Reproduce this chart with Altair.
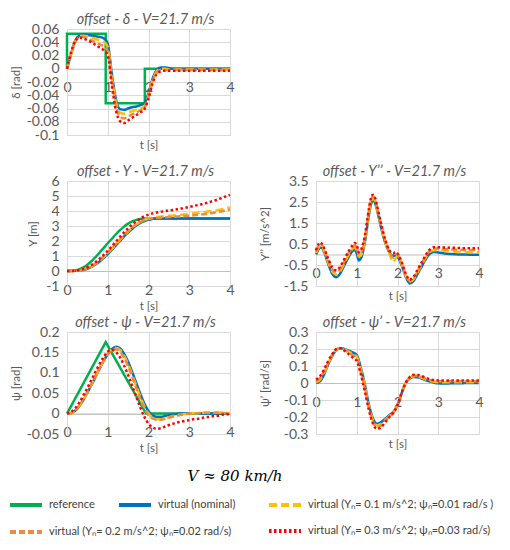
import altair as alt
import pandas as pd

NAMES = ["reference", "virtual (nominal)",
         "virtual (Yₙ= 0.1 m/s^2; ψₙ=0.01 rad/s )",
         "virtual (Yₙ= 0.2 m/s^2; ψₙ=0.02 rad/s)",
         "virtual (Yₙ= 0.3 m/s^2; ψₙ=0.03 rad/s)"]
COLORS = ["#00B050", "#0070C0", "#FFC000", "#F08A3C", "#FF0000"]
DASHES = [[1, 0], [1, 0], [8, 4], [6, 3], [2.5, 2.5]]

T41 = [round(i * 0.1, 1) for i in range(41)]

# steering angle delta [rad]
delta_ref_t = [0, 0, 0.95, 0.95, 1.91, 1.91, 4]
delta_ref = [0, 0.053, 0.053, -0.052, -0.052, 0, 0]
delta_nom = [0, 0.022, 0.042, 0.05, 0.052, 0.051, 0.05, 0.049, 0.048, 0.046, 0.038,
             -0.008, -0.046, -0.061, -0.062, -0.06, -0.058, -0.057, -0.055, -0.052, -0.037,
             -0.015, -0.002, 0.002, 0.002, 0.001, 0, 0, 0, 0, 0,
             0, 0, 0, 0, 0, 0, 0, 0, 0, 0]
delta_01 = [0, 0.022, 0.041, 0.049, 0.05, 0.049, 0.047, 0.045, 0.043, 0.041, 0.033,
            -0.012, -0.05, -0.066, -0.068, -0.066, -0.064, -0.062, -0.06, -0.057, -0.04,
            -0.017, -0.004, 0.0, 0.0, -0.001, -0.001, -0.001, -0.001, -0.001, -0.001,
            -0.001, -0.001, -0.001, -0.001, -0.001, -0.001, -0.001, -0.001, -0.001, -0.001]
delta_02 = [0, 0.022, 0.04, 0.047, 0.048, 0.046, 0.043, 0.04, 0.037, 0.034, 0.027,
            -0.018, -0.056, -0.072, -0.075, -0.072, -0.069, -0.066, -0.063, -0.059, -0.042,
            -0.019, -0.006, -0.002, -0.002, -0.002, -0.002, -0.002, -0.002, -0.002, -0.002,
            -0.002, -0.002, -0.002, -0.002, -0.002, -0.002, -0.002, -0.002, -0.002, -0.002]
delta_03 = [0, 0.025, 0.042, 0.047, 0.046, 0.043, 0.04, 0.036, 0.032, 0.028, 0.02,
            -0.025, -0.063, -0.079, -0.082, -0.078, -0.074, -0.07, -0.066, -0.061, -0.045,
            -0.022, -0.008, -0.004, -0.003, -0.003, -0.003, -0.003, -0.003, -0.003, -0.003,
            -0.003, -0.003, -0.003, -0.003, -0.003, -0.003, -0.003, -0.003, -0.003, -0.003]

# lateral position Y [m]
y_ref = [0, 0.01, 0.04, 0.11, 0.24, 0.42, 0.65, 0.93, 1.23, 1.54, 1.85,
         2.15, 2.45, 2.72, 2.96, 3.16, 3.31, 3.41, 3.47, 3.5, 3.5,
         3.5, 3.5, 3.5, 3.5, 3.5, 3.5, 3.5, 3.5, 3.5, 3.5,
         3.5, 3.5, 3.5, 3.5, 3.5, 3.5, 3.5, 3.5, 3.5, 3.5]
y_nom = [0, 0.0, 0.01, 0.03, 0.07, 0.15, 0.27, 0.43, 0.63, 0.86, 1.12,
         1.4, 1.7, 2.0, 2.3, 2.57, 2.82, 3.03, 3.2, 3.33, 3.42,
         3.47, 3.5, 3.5, 3.5, 3.5, 3.5, 3.5, 3.5, 3.5, 3.5,
         3.5, 3.5, 3.5, 3.5, 3.5, 3.5, 3.5, 3.5, 3.5, 3.5]
y_01 = [0, 0, 0.01, 0.04, 0.09, 0.18, 0.31, 0.48, 0.69, 0.93, 1.19,
        1.47, 1.77, 2.07, 2.37, 2.65, 2.9, 3.11, 3.28, 3.41, 3.5,
        3.56, 3.6, 3.63, 3.66, 3.68, 3.7, 3.72, 3.75, 3.78, 3.81,
        3.84, 3.87, 3.9, 3.94, 3.98, 4.02, 4.07, 4.12, 4.18, 4.25]
y_02 = [0, 0, 0.01, 0.04, 0.1, 0.19, 0.33, 0.5, 0.72, 0.96, 1.22,
        1.5, 1.8, 2.1, 2.4, 2.67, 2.91, 3.11, 3.27, 3.38, 3.46,
        3.51, 3.54, 3.56, 3.58, 3.6, 3.61, 3.63, 3.65, 3.67, 3.69,
        3.71, 3.74, 3.77, 3.8, 3.84, 3.88, 3.93, 3.98, 4.04, 4.1]
y_03 = [0, 0, 0.02, 0.06, 0.13, 0.24, 0.39, 0.58, 0.81, 1.07, 1.35,
        1.65, 1.96, 2.27, 2.57, 2.85, 3.1, 3.32, 3.5, 3.65, 3.76,
        3.84, 3.9, 3.95, 3.99, 4.03, 4.07, 4.11, 4.16, 4.21, 4.27,
        4.33, 4.39, 4.45, 4.52, 4.6, 4.68, 4.77, 4.87, 4.97, 5.08]

# lateral acceleration Y'' [m/s^2]
acc_t = [0, 0.05, 0.1, 0.15, 0.2, 0.3, 0.4, 0.5, 0.6, 0.7, 0.8, 0.9, 0.95, 1.0,
         1.05, 1.1, 1.2, 1.3, 1.35, 1.4, 1.45, 1.5, 1.6, 1.7, 1.8, 1.9, 1.95, 2.0,
         2.1, 2.2, 2.3, 2.4, 2.5, 2.6, 2.7, 2.8, 2.9, 3.0, 3.2, 3.4, 3.6, 3.8, 4.0]
acc_nom = [0.0, 0.2, 0.32, 0.3, 0.12, -0.45, -0.92, -1.08, -0.88, -0.5, -0.12, 0.18, 0.22, 0.05,
           -0.28, -0.2, 0.6, 1.9, 2.4, 2.58, 2.45, 2.1, 1.25, 0.55, 0.1, -0.08, -0.05, -0.1,
           -0.5, -1.05, -1.38, -1.25, -0.9, -0.55, -0.2, 0.05, 0.12, 0.1, 0.04, 0.01, 0.0, -0.01, -0.01]
acc_01 = [0.07, 0.28, 0.42, 0.38, 0.18, -0.38, -0.82, -0.95, -0.78, -0.4, -0.02, 0.28, 0.33, 0.2,
          -0.1, -0.05, 0.7, 2.0, 2.5, 2.68, 2.55, 2.18, 1.32, 0.6, 0.05, -0.35, -0.2, -0.05,
          -0.45, -1.0, -1.3, -1.17, -0.82, -0.47, -0.12, 0.13, 0.2, 0.2, 0.16, 0.13, 0.12, 0.12, 0.12]
acc_02 = [0.13, 0.36, 0.5, 0.44, 0.24, -0.3, -0.72, -0.85, -0.66, -0.3, 0.06, 0.36, 0.44, 0.32,
          0.0, 0.07, 0.8, 2.1, 2.6, 2.77, 2.63, 2.24, 1.38, 0.65, 0.12, -0.15, -0.05, 0.0,
          -0.4, -0.95, -1.25, -1.1, -0.76, -0.41, -0.06, 0.19, 0.28, 0.28, 0.25, 0.23, 0.22, 0.22, 0.22]
acc_03 = [0.2, 0.45, 0.58, 0.5, 0.3, -0.2, -0.62, -0.75, -0.55, -0.2, 0.15, 0.45, 0.55, 0.45,
          0.1, 0.2, 0.9, 2.2, 2.7, 2.85, 2.7, 2.3, 1.45, 0.7, 0.2, 0.05, 0.12, 0.05,
          -0.35, -0.9, -1.2, -1.05, -0.7, -0.35, 0.0, 0.25, 0.35, 0.35, 0.33, 0.32, 0.3, 0.3, 0.3]

# yaw angle psi [rad]
psi_ref_t = [0, 0.95, 1.94, 4]
psi_ref = [0, 0.175, 0, 0]
psi_nom = [0, 0.001, 0.007, 0.018, 0.033, 0.051, 0.07, 0.09, 0.11, 0.129, 0.146,
           0.158, 0.164, 0.16, 0.147, 0.127, 0.102, 0.075, 0.048, 0.024, 0.006,
           -0.004, -0.008, -0.008, -0.006, -0.004, -0.002, -0.001, 0, 0, 0,
           0, 0, 0, 0, 0, 0, 0, 0, 0, 0]
psi_01 = [0, 0.001, 0.007, 0.019, 0.034, 0.052, 0.071, 0.091, 0.111, 0.13, 0.146,
          0.157, 0.161, 0.156, 0.142, 0.121, 0.095, 0.068, 0.041, 0.017, 0.0,
          -0.01, -0.014, -0.014, -0.012, -0.009, -0.006, -0.004, -0.002, -0.001, 0.0,
          0.001, 0.001, 0.002, 0.002, 0.003, 0.003, 0.003, 0.003, 0.002, 0.001]
psi_02 = [0, 0.002, 0.008, 0.02, 0.036, 0.054, 0.073, 0.093, 0.112, 0.13, 0.145,
          0.155, 0.158, 0.152, 0.137, 0.116, 0.09, 0.063, 0.036, 0.013, -0.004,
          -0.012, -0.015, -0.015, -0.013, -0.01, -0.007, -0.005, -0.003, -0.001, 0.0,
          0.001, 0.001, 0.002, 0.002, 0.002, 0.002, 0.002, 0.002, 0.001, 0.001]
psi_03 = [0, 0.004, 0.013, 0.027, 0.044, 0.063, 0.083, 0.103, 0.122, 0.139, 0.152,
          0.156, 0.151, 0.138, 0.118, 0.094, 0.068, 0.041, 0.015, -0.008, -0.025,
          -0.034, -0.037, -0.036, -0.032, -0.028, -0.025, -0.022, -0.02, -0.018, -0.016,
          -0.014, -0.013, -0.011, -0.009, -0.008, -0.006, -0.005, -0.003, -0.002, -0.001]

# yaw rate psi' [rad/s]
rate_nom = [0, 0.01, 0.05, 0.11, 0.16, 0.195, 0.205, 0.2, 0.19, 0.18, 0.165,
            0.09, -0.01, -0.13, -0.21, -0.24, -0.23, -0.21, -0.19, -0.17, -0.13,
            -0.06, 0.0, 0.027, 0.036, 0.033, 0.025, 0.016, 0.008, 0.002, -0.002,
            -0.003, -0.003, -0.002, -0.002, -0.001, -0.001, 0, 0, 0, 0]
rate_01 = [0.005, 0.02, 0.06, 0.115, 0.165, 0.197, 0.205, 0.198, 0.185, 0.172, 0.155,
           0.08, -0.02, -0.14, -0.22, -0.25, -0.24, -0.215, -0.195, -0.172, -0.13,
           -0.06, 0.0, 0.03, 0.04, 0.038, 0.03, 0.02, 0.012, 0.007, 0.005,
           0.005, 0.005, 0.005, 0.005, 0.005, 0.005, 0.005, 0.005, 0.005, 0.005]
rate_02 = [0.01, 0.03, 0.07, 0.12, 0.168, 0.198, 0.205, 0.195, 0.18, 0.163, 0.145,
           0.065, -0.035, -0.15, -0.23, -0.26, -0.25, -0.22, -0.198, -0.173, -0.13,
           -0.06, 0.0, 0.032, 0.044, 0.043, 0.035, 0.025, 0.017, 0.012, 0.01,
           0.01, 0.01, 0.01, 0.01, 0.01, 0.01, 0.01, 0.01, 0.01, 0.01]
rate_03 = [0.02, 0.04, 0.08, 0.13, 0.17, 0.2, 0.205, 0.19, 0.17, 0.15, 0.13,
           0.05, -0.05, -0.16, -0.24, -0.27, -0.26, -0.23, -0.2, -0.175, -0.13,
           -0.06, 0.0, 0.035, 0.048, 0.047, 0.04, 0.03, 0.022, 0.017, 0.015,
           0.014, 0.014, 0.014, 0.014, 0.014, 0.015, 0.015, 0.015, 0.015, 0.015]

GRAY = "#595959"

# three small legends so that the entries flow like the original one
LEG_A = alt.Legend(title="V ≈ 80 km/h", orient="none", legendX=-59, legendY=440,
                   direction="horizontal", columns=2, columnPadding=16,
                   titleAnchor="end", titleAlign="center", titlePadding=3)
LEG_B = alt.Legend(title=None, orient="none", legendX=200, legendY=458, direction="vertical")
LEG_C = alt.Legend(title=None, orient="none", legendX=-59, legendY=485,
                   symbolStrokeColor=COLORS[3], symbolDash=DASHES[3])

enc_a = dict(color=alt.Color("series:N", scale=alt.Scale(domain=NAMES[:2], range=COLORS[:2]),
                             legend=LEG_A))
enc_b = dict(stroke=alt.Stroke("series:N", scale=alt.Scale(domain=[NAMES[2], NAMES[4]],
                                                           range=[COLORS[2], COLORS[4]]), legend=LEG_B),
             strokeDash=alt.StrokeDash("series:N", scale=alt.Scale(domain=[NAMES[2], NAMES[4]],
                                                                   range=[DASHES[2], DASHES[4]]), legend=LEG_B))
enc_c = dict(opacity=alt.Opacity("series:N", scale=alt.Scale(domain=[NAMES[3]], range=[1]), legend=LEG_C))


def panel(title, ytitle, t, nom, v01, v02, v03, ymin, ymax, step, h,
          ref_t=None, ref_v=None, ref_curve="linear", title_x=-46):
    n = int(round((ymax - ymin) / step))
    ticks = [round(ymin + i * step, 3) for i in range(n + 1)]
    zero = h * (0 - ymin) / (ymax - ymin)
    x = alt.X("t:Q", scale=alt.Scale(domain=[0, 4], nice=False),
              axis=alt.Axis(values=[0, 1, 2, 3, 4], offset=-zero, title="t [s]",
                            titleY=max(zero + 4, 29), titleBaseline="top", labelPadding=12))
    y = alt.Y("v:Q", scale=alt.Scale(domain=[ymin, ymax], nice=False, zero=False),
              axis=alt.Axis(values=ticks, title=ytitle, labelExpr="'' + datum.value",
                            titleX=title_x, titleBaseline="bottom"))

    def line(tt, vv, name, enc, curve="monotone", **mark):
        df = pd.DataFrame({"t": tt, "v": vv, "series": name, "i": list(range(len(tt)))})
        return alt.Chart(df).mark_line(interpolate=curve, strokeWidth=2.5, **mark).encode(
            x=x, y=y, order="i:Q", **enc)

    layers = []
    if ref_t is not None:
        layers.append(line(ref_t, ref_v, NAMES[0], enc_a, ref_curve))
    layers.append(line(t, nom, NAMES[1], enc_a))
    layers.append(line(t, v01, NAMES[2], enc_b))
    layers.append(line(t, v02, NAMES[3], enc_c, color=COLORS[3], strokeDash=DASHES[3]))
    layers.append(line(t, v03, NAMES[4], enc_b))
    return alt.layer(*layers).properties(
        width=163, height=h,
        title=alt.Title(title, dx=-3, offset=-5))


p_delta = panel("offset - δ - V=21.7 m/s", "δ [rad]", T41,
                delta_nom, delta_01, delta_02, delta_03, -0.1, 0.06, 0.02, 106,
                delta_ref_t, delta_ref)
p_y = panel("offset - Y - V=21.7 m/s", "Y [m]", T41,
            y_nom, y_01, y_02, y_03, -1, 6, 1, 105, T41, y_ref, "monotone", title_x=-29)
p_acc = panel("offset - Y’’ - V=21.7 m/s", "Y’’ [m/s^2]", acc_t,
              acc_nom, acc_01, acc_02, acc_03, -1.5, 3.5, 1, 105)
p_psi = panel("offset - ψ - V=21.7 m/s", "ψ [rad]", T41,
              psi_nom, psi_01, psi_02, psi_03, -0.05, 0.2, 0.05, 102,
              psi_ref_t, psi_ref)
p_rate = panel("offset - ψ’ - V=21.7 m/s", "ψ’ [rad/s]", T41,
               rate_nom, rate_01, rate_02, rate_03, -0.3, 0.3, 0.1, 102)

# the top-right cell of the grid stays empty
blank = alt.Chart(pd.DataFrame({"t": [0]})).mark_point(opacity=0).encode(
    x=alt.X("t:Q", axis=None), y=alt.Y("t:Q", axis=None)).properties(width=163, height=106)

chart = alt.concat(p_delta, blank, p_y, p_acc, p_psi, p_rate, columns=2,
                   spacing={"row": 46, "column": 86}, bounds="flush")
chart = chart.resolve_scale(x="independent", y="independent", color="shared", stroke="shared",
                            strokeDash="shared", opacity="shared") \
             .resolve_legend(color="shared", stroke="shared", strokeDash="shared", opacity="shared")

chart = chart.properties(padding={"top": 3, "left": 0, "right": 0, "bottom": 0}).configure_view(
    stroke=None
).configure_axis(
    labelFont="Lato", labelFontSize=14, labelColor=GRAY, labelFlush=False, labelOverlap=False,
    titleFont="Lato", titleFontSize=11.5, titleFontWeight="normal", titleColor=GRAY,
    gridColor="#d9d9d9", gridWidth=1, domainColor="#d9d9d9", ticks=False,
).configure_axisX(domainColor="#bfbfbf", domainWidth=1.2).configure_axisY(
    labelPadding=8, titlePadding=4,
).configure_title(
    font="Lato", fontSize=14.5, fontStyle="italic", fontWeight="normal", color=GRAY, anchor="middle",
).configure_legend(
    symbolType="stroke", symbolSize=1024, symbolStrokeWidth=4, labelFont="Lato", labelFontSize=11,
    labelColor="#404040", labelLimit=400, labelOffset=5, rowPadding=-6,
    titleFont="DejaVu Serif", titleFontStyle="italic", titleFontWeight="normal", titleFontSize=15,
    titleColor="#000000", padding=0,
)

chart.save("out.html", embed_options={"renderer": "svg", "actions": False})
